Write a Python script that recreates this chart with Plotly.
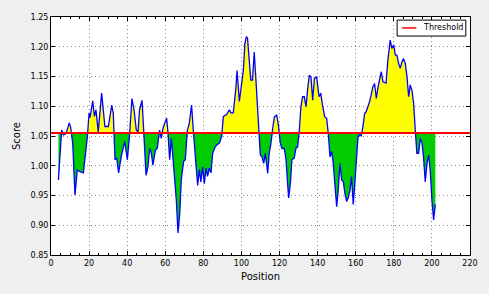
import plotly.graph_objects as go

# ---- data ----
position = [3.9, 5.6, 6.5, 7.9, 9.6, 10.3, 11.4, 12.6, 13.8, 15.2, 17.0, 17.9, 19.1, 20.0, 20.5,
            21.9, 22.8, 23.6, 24.8, 26.6, 27.5, 28.3, 30.1, 31.9, 32.7, 33.6, 34.5, 35.5, 36.9,
            38.7, 40.1, 41.3, 42.5, 43.6, 44.8, 45.7, 46.5, 47.8, 48.8, 49.9, 50.9, 51.8, 52.7,
            53.5, 54.8, 55.8, 57.0, 57.9, 58.8, 59.7, 60.7, 61.4, 62.3, 63.2, 64.0, 64.9, 65.8,
            66.7, 67.6, 68.4, 69.6, 70.5, 71.6, 72.6, 73.8, 74.7, 75.6, 77.0, 77.9, 78.7, 79.6,
            80.5, 81.4, 82.2, 83.1, 84.0, 84.9, 85.8, 87.0, 88.4, 89.6, 90.5, 92.2, 93.6, 94.5,
            95.7, 97.0, 97.7, 98.9, 100.0, 101.0, 101.8, 102.6, 103.2, 104.1, 104.9, 105.8, 106.7,
            107.6, 108.5, 109.0, 109.9, 110.8, 111.7, 112.5, 113.8, 114.6, 115.5, 116.4, 117.3,
            118.5, 119.3, 120.4, 121.3, 122.5, 123.4, 124.2, 124.8, 125.7, 126.5, 127.7, 128.6,
            129.5, 130.4, 131.2, 132.1, 133.0, 133.9, 134.7, 135.6, 136.5, 137.4, 138.3, 139.5,
            140.7, 141.6, 142.4, 143.7, 144.7, 145.6, 146.5, 147.4, 148.2, 149.1, 150.0, 150.8,
            151.7, 152.6, 153.5, 154.3, 155.2, 156.1, 157.0, 157.8, 158.7, 159.4, 160.3, 161.2,
            162.0, 162.9, 163.8, 164.7, 165.5, 166.4, 167.3, 168.1, 169.0, 169.9, 170.8, 171.6,
            172.5, 173.4, 174.3, 175.9, 176.9, 178.1, 179.0, 179.9, 180.8, 181.6, 182.5, 183.4,
            184.3, 185.1, 186.0, 186.9, 187.8, 188.6, 189.5, 190.4, 191.3, 192.1, 193.0, 193.9,
            194.8, 195.6, 196.5, 197.4, 198.3, 199.1, 200.0, 200.9, 201.8]
score = [0.976, 1.060, 1.052, 1.054, 1.072, 1.065, 1.038, 0.951, 0.993, 0.990, 0.988, 1.010, 1.049,
         1.089, 1.081, 1.109, 1.083, 1.094, 1.057, 1.122, 1.094, 1.066, 1.066, 1.102, 1.088, 1.010,
         1.013, 0.988, 1.016, 1.041, 1.010, 1.054, 1.113, 1.094, 1.060, 1.057, 1.094, 1.110, 1.051,
         0.984, 0.998, 1.029, 1.021, 1.001, 1.026, 1.029, 1.060, 1.046, 1.063, 1.071, 1.080, 1.057,
         1.010, 1.046, 1.013, 0.976, 0.943, 0.887, 0.920, 0.976, 1.007, 1.010, 1.060, 1.071, 1.102,
         1.060, 1.026, 0.967, 0.993, 0.973, 0.998, 0.970, 0.996, 0.982, 0.996, 0.988, 1.021, 1.029,
         1.035, 1.038, 1.049, 1.083, 1.086, 1.094, 1.089, 1.089, 1.128, 1.160, 1.108, 1.133, 1.161,
         1.205, 1.217, 1.214, 1.166, 1.144, 1.144, 1.191, 1.144, 1.097, 1.060, 1.018, 1.015, 1.004,
         1.021, 0.987, 1.021, 1.038, 1.063, 1.082, 1.085, 1.071, 1.038, 1.029, 1.029, 1.010, 0.971,
         0.946, 0.971, 1.010, 1.013, 1.029, 1.032, 1.060, 1.099, 1.116, 1.116, 1.099, 1.127, 1.152,
         1.149, 1.110, 1.147, 1.149, 1.116, 1.122, 1.105, 1.082, 1.080, 1.054, 1.015, 1.024, 1.004,
         0.965, 0.931, 0.959, 1.004, 0.976, 0.973, 0.954, 0.940, 0.946, 0.959, 0.982, 0.935, 0.965,
         1.004, 1.049, 1.052, 1.050, 1.066, 1.088, 1.091, 1.099, 1.108, 1.119, 1.133, 1.138, 1.113,
         1.130, 1.147, 1.158, 1.141, 1.139, 1.178, 1.211, 1.197, 1.203, 1.186, 1.186, 1.172, 1.164,
         1.175, 1.180, 1.172, 1.150, 1.116, 1.136, 1.127, 1.105, 1.058, 1.021, 1.021, 1.046, 1.038,
         1.015, 0.973, 1.004, 1.018, 0.993, 0.943, 0.909, 0.935]
threshold = 1.055
x_range = [0, 220]
y_range = [0.85, 1.25]
x_ticks = list(range(0, 221, 20))
y_ticks = [0.85, 0.90, 0.95, 1.00, 1.05, 1.10, 1.15, 1.20, 1.25]
legend_label = "Threshold"

# ---- insert threshold crossings for the fills ----
xs, ys = [], []
for i in range(len(position)):
    if i > 0:
        y0, y1 = score[i - 1], score[i]
        if (y0 - threshold) * (y1 - threshold) < 0:
            t = (threshold - y0) / (y1 - y0)
            xs.append(position[i - 1] + t * (position[i] - position[i - 1]))
            ys.append(threshold)
    xs.append(position[i])
    ys.append(score[i])
upper = [max(v, threshold) for v in ys]
lower = [min(v, threshold) for v in ys]
base = [threshold] * len(xs)

fig = go.Figure()
fig.add_trace(go.Scatter(x=xs, y=base, mode="lines", line=dict(width=0), showlegend=False, hoverinfo="skip"))
fig.add_trace(go.Scatter(x=xs, y=upper, mode="lines", line=dict(width=0), fill="tonexty",
                         fillcolor="#ffff00", showlegend=False, hoverinfo="skip"))
fig.add_trace(go.Scatter(x=xs, y=base, mode="lines", line=dict(width=0), showlegend=False, hoverinfo="skip"))
fig.add_trace(go.Scatter(x=xs, y=lower, mode="lines", line=dict(width=0), fill="tonexty",
                         fillcolor="#00cc00", showlegend=False, hoverinfo="skip"))
fig.add_trace(go.Scatter(x=position, y=score, mode="lines", line=dict(color="#0000ff", width=1.3),
                         showlegend=False))
fig.add_trace(go.Scatter(x=x_range, y=[threshold, threshold], mode="lines",
                         line=dict(color="#ff0000", width=2), name=legend_label, showlegend=False))

axis_common = dict(
    showline=True, linecolor="black", linewidth=1, mirror="ticks",
    ticks="inside", ticklen=4, tickcolor="black",
    showgrid=True, gridcolor="#8a8a8a", gridwidth=1, griddash="1px,3px",
    zeroline=False, tickfont=dict(size=8, color="black"), automargin=False,
)
fig.update_xaxes(range=x_range, tickvals=x_ticks, **axis_common,
                 title=dict(text="Position", font=dict(size=10, color="black"), standoff=6),
                 minor=dict(dtick=5, ticks="inside", ticklen=2, tickcolor="black", showgrid=False))
fig.update_yaxes(range=y_range, tickvals=y_ticks, tickformat=".2f", **axis_common,
                 title=dict(text="Score", font=dict(size=10, color="black"), standoff=8))

# manual legend box (matplotlib style)
fig.add_shape(type="rect", xref="paper", yref="paper", x0=0.826, x1=0.990, y0=0.920, y1=0.987,
              line=dict(color="black", width=1), fillcolor="white", layer="above")
fig.add_shape(type="line", xref="paper", yref="paper", x0=0.838, x1=0.872, y0=0.954, y1=0.954,
              line=dict(color="#ff0000", width=1.5), layer="above")
fig.add_annotation(xref="paper", yref="paper", x=0.882, y=0.954, xanchor="left", yanchor="middle",
                   text=legend_label, showarrow=False, font=dict(size=8, color="black"))

fig.update_layout(
    width=489, height=294,
    template="none",
    paper_bgcolor="#efefef", plot_bgcolor="white",
    font=dict(family="DejaVu Sans", size=8, color="black"),
    margin=dict(l=51, r=19, t=17, b=39, autoexpand=False),
    showlegend=False,
)
fig.write_html("out.html", config={"displayModeBar": False},
               post_script="document.body.style.margin='0';document.body.style.background='#efefef';")
